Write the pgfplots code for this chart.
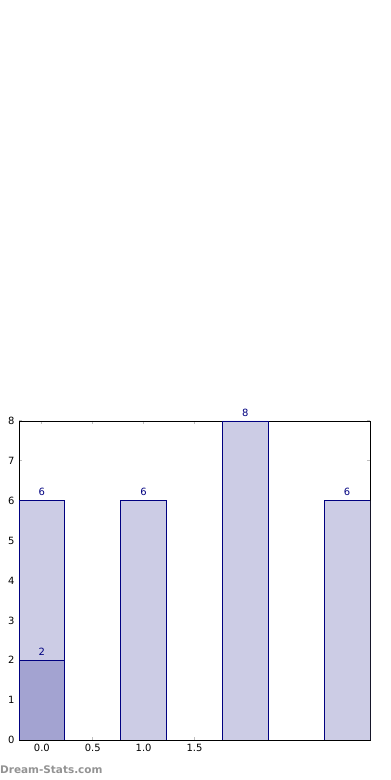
\documentclass[border=0pt]{standalone}
\usepackage{pgfplots}
\pgfplotsset{compat=1.18}
\usepackage{fontspec}
\setmainfont{DejaVu Sans}
\definecolor{navyc}{HTML}{000080}
\definecolor{fillc}{HTML}{CCCCE5}
\definecolor{fillc2}{HTML}{A3A3D1}
\definecolor{tickc}{HTML}{BFBFBF}
\begin{document}
\begin{tikzpicture}[x=1bp,y=1bp]
\useasboundingbox (0,0) rectangle (390,780);
\begin{axis}[
  at={(19bp,40bp)}, anchor=south west,
  scale only axis, width=351bp, height=319bp,
  xmin=-0.225, xmax=3.225, ymin=0, ymax=8,
  xtick={0,0.5,1,1.5}, xticklabels={0.0,0.5,1.0,1.5},
  ytick={0,1,2,3,4,5,6,7,8},
  tick align=inside, major tick length=3bp,
  tick style={tickc, line width=1.2bp},
  axis line style={black, line width=0.8bp},
  ticklabel style={font=\fontsize{10}{11}\selectfont},
  xticklabel style={yshift=-1bp},
  yticklabel style={xshift=-1bp},
  /pgf/number format/assume math mode=true,
  xtick pos=both, ytick pos=both,
  nodes near coords,
  every node near coord/.style={font=\fontsize{10}{11}\selectfont, text=navyc, yshift=1bp},
]
\addplot[ybar, bar width=0.45, bar shift=0pt, draw=navyc, fill=fillc, line width=0.8bp]
  coordinates {(0,6) (1,6) (2,8) (3,6)};
\addplot[ybar, bar width=0.45, bar shift=0pt, draw=navyc, fill=fillc2, line width=0.8bp]
  coordinates {(0,2)};
\end{axis}
\node[anchor=west, text=gray!85, font=\fontsize{10.5}{12}\selectfont\bfseries, inner sep=0pt] at (0,10) {Dream-Stats.com};
\end{tikzpicture}
\end{document}
